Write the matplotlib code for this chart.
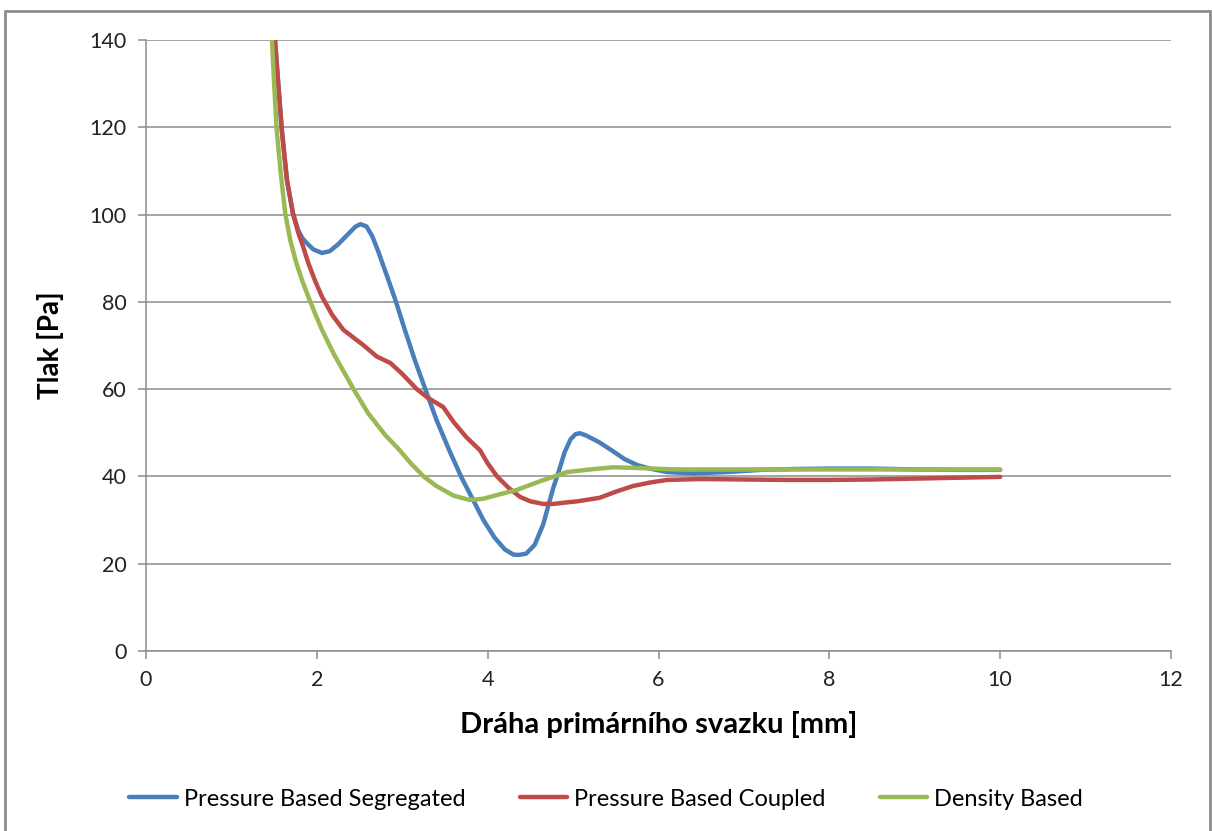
import numpy as np
import matplotlib.pyplot as plt
from matplotlib.patches import Rectangle

plt.rcParams['font.family'] = ['Lato', 'DejaVu Sans']

# Pressure Based Segregated (blue)
seg_x = [1.48, 1.51, 1.53, 1.56, 1.59, 1.65, 1.72, 1.78, 1.83, 1.88, 1.96, 2.06, 2.15, 2.25,
         2.35, 2.45, 2.51, 2.58, 2.65, 2.72, 2.82, 2.92, 3.03, 3.15, 3.27, 3.40, 3.55, 3.70,
         3.83, 3.95, 4.08, 4.20, 4.30, 4.36, 4.45, 4.55, 4.65, 4.72, 4.77, 4.83, 4.90, 4.97,
         5.03, 5.08, 5.15, 5.30, 5.45, 5.60, 5.75, 5.90, 6.10, 6.40, 6.80, 7.20, 7.60, 8.00,
         8.50, 9.00, 9.50, 10.0]
seg_y = [148, 140, 134.7, 127, 119.4, 107.9, 100.3, 96.5, 94.6, 93.5, 92.0, 91.2, 91.6, 93.2,
         95.2, 97.2, 97.8, 97.3, 95.0, 91.5, 86.0, 80.4, 73.6, 66.5, 60.0, 53.0, 46.0, 39.5,
         34.6, 30.0, 26.0, 23.3, 22.1, 22.0, 22.3, 24.3, 29.0, 34.0, 37.5, 41.0, 45.5, 48.5,
         49.7, 49.9, 49.4, 47.9, 46.0, 44.0, 42.6, 41.8, 41.0, 40.7, 41.0, 41.5, 41.7, 41.8,
         41.8, 41.6, 41.5, 41.5]

# Pressure Based Coupled (red)
cpl_x = [1.48, 1.51, 1.53, 1.56, 1.59, 1.65, 1.72, 1.78, 1.84, 1.90, 1.98, 2.06, 2.18, 2.31,
         2.45, 2.55, 2.70, 2.86, 3.00, 3.17, 3.30, 3.48, 3.60, 3.75, 3.91, 4.00, 4.11, 4.25,
         4.38, 4.50, 4.65, 4.77, 4.90, 5.05, 5.31, 5.50, 5.70, 5.90, 6.10, 6.50, 7.00, 7.50,
         8.00, 8.50, 9.00, 9.50, 10.0]
cpl_y = [148, 140, 134.7, 127, 119.4, 107.9, 100.3, 96.0, 92.6, 88.9, 84.8, 81.2, 77.0, 73.6,
         71.5, 70.0, 67.5, 66.0, 63.5, 60.0, 58.0, 55.9, 52.5, 49.0, 46.0, 43.0, 40.0, 37.3,
         35.3, 34.3, 33.7, 33.7, 34.0, 34.3, 35.1, 36.5, 37.8, 38.6, 39.2, 39.4, 39.3, 39.2,
         39.2, 39.3, 39.5, 39.7, 39.9]

# Density Based (green)
den_x = [1.45, 1.475, 1.50, 1.53, 1.58, 1.63, 1.69, 1.76, 1.83, 1.90, 1.98, 2.06, 2.20, 2.43,
         2.60, 2.80, 2.97, 3.10, 3.25, 3.40, 3.60, 3.79, 3.95, 4.10, 4.34, 4.60, 4.93, 5.20,
         5.47, 5.80, 6.20, 7.00, 8.00, 9.00, 10.0]
den_y = [148, 140, 130, 119.4, 109, 100.3, 94.0, 88.9, 84.8, 81.2, 77.3, 73.6, 68.0, 60.0,
         54.5, 49.5, 46.0, 43.0, 40.0, 37.8, 35.6, 34.6, 34.9, 35.7, 36.9, 38.8, 41.0, 41.6,
         42.1, 41.9, 41.6, 41.6, 41.6, 41.6, 41.6]

fig = plt.figure(figsize=(12.12, 8.31), dpi=100)
ax = fig.add_axes([146/1212, 180/831, 1025/1212, 611/831])

lw = 3.2
ax.plot(seg_x, seg_y, color='#4A7EBB', lw=lw, label='Pressure Based Segregated', solid_capstyle='round')
ax.plot(cpl_x, cpl_y, color='#BE4B48', lw=lw, label='Pressure Based Coupled', solid_capstyle='round')
ax.plot(den_x, den_y, color='#98B954', lw=lw, label='Density Based', solid_capstyle='round')

ax.set_xlim(0, 12)
ax.set_ylim(0, 140)
ax.set_xticks(range(0, 13, 2))
ax.set_yticks(range(0, 141, 20))
ax.yaxis.grid(True, color='#8c8c8c', lw=1.1)
ax.set_axisbelow(True)
for s in ['top', 'right']:
    ax.spines[s].set_visible(False)
for s in ['left', 'bottom']:
    ax.spines[s].set_color('#8c8c8c')
    ax.spines[s].set_linewidth(1.1)
ax.tick_params(direction='out', length=6, width=1.1, color='#8c8c8c',
               labelsize=15.5, labelcolor='#222222', pad=8)

ax.set_xlabel('Dráha primárního svazku [mm]', fontsize=21, fontweight='bold', labelpad=15)
ax.set_ylabel('Tlak [Pa]', fontsize=20, fontweight='bold', labelpad=18)

fig.legend(loc='center', bbox_to_anchor=(0.5, 1 - 799/831), ncol=3, frameon=False,
           fontsize=17, handlelength=2.0, handletextpad=0.3, columnspacing=2.3)

fig.patches.append(Rectangle((5/1212, -0.01), 1205/1212, 1 - 11/831 + 0.01,
                             transform=fig.transFigure, fill=False,
                             edgecolor='#8c8c8c', lw=2))

fig.savefig('out.png', dpi=100)
